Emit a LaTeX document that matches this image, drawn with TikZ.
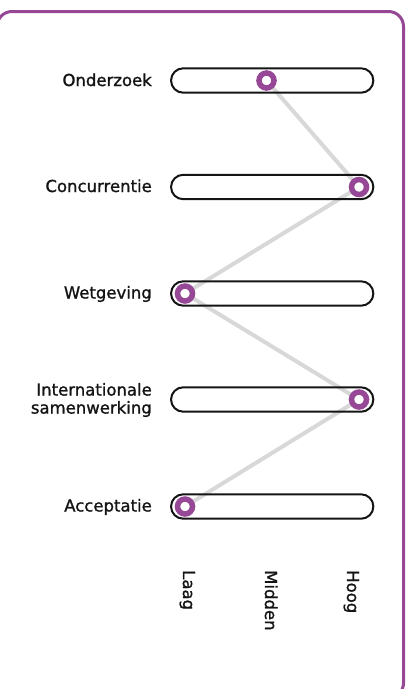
\documentclass[tikz,border=0pt]{standalone}
\usepackage{fontspec}
\newfontfamily\labfont[FakeBold=1.2]{DejaVu Sans}
\usetikzlibrary{shapes.misc}
\definecolor{frameviolet}{RGB}{150,72,150}
\definecolor{ink}{RGB}{20,20,20}
\definecolor{linkgray}{RGB}{216,216,216}
\tikzset{
  framebox/.style={draw=frameviolet, line width=3pt, rounded corners=15pt},
  track/.style={draw=ink, line width=2pt, rounded rectangle, minimum width=202.3pt, minimum height=24.4pt, inner sep=0pt},
  marker/.style={circle, draw=frameviolet, line width=5.5pt, fill=white, minimum size=15pt, inner sep=0pt},
  link/.style={draw=linkgray, line width=4pt},
  rowlabel/.style={font=\labfont\fontsize{16.5}{18}\selectfont, text=ink, align=right, inner sep=0pt},
  axislabel/.style={font=\labfont\fontsize{16.5}{18}\selectfont, text=ink, rotate=-90, anchor=base west, inner sep=0pt}
}
\begin{document}
\begin{tikzpicture}[x=1pt, y=-1pt]
\useasboundingbox (0,0) rectangle (413,689);
\draw[framebox] (-3,11.5) rectangle (403.5,698);
% marker positions
\coordinate (p1) at (266.5,80.5);
\coordinate (p2) at (359,187);
\coordinate (p3) at (185,293.5);
\coordinate (p4) at (359,399.5);
\coordinate (p5) at (185,506.5);
% connectors
\draw[link] (p1) -- (p2);
\draw[link] (p2) -- (p3);
\draw[link] (p3) -- (p4);
\draw[link] (p4) -- (p5);
% tracks
\node[track] (t1) at (272.2,80.5) {};
\node[track] (t2) at (272.2,187) {};
\node[track] (t3) at (272.2,293.5) {};
\node[track] (t4) at (272.2,399.5) {};
\node[track] (t5) at (272.2,506.5) {};
% markers
\node[marker] (m1) at (p1) {};
\node[marker] (m2) at (p2) {};
\node[marker] (m3) at (p3) {};
\node[marker] (m4) at (p4) {};
\node[marker] (m5) at (p5) {};
% row labels
\node[rowlabel, anchor=base east] (l1) at (152,86) {Onderzoek};
\node[rowlabel, anchor=base east] (l2) at (152,192) {Concurrentie};
\node[rowlabel, anchor=base east] (l3) at (152,298.5) {Wetgeving};
\node[rowlabel, anchor=east] (l4) at (152,400) {Internationale\\samenwerking};
\node[rowlabel, anchor=base east] (l5) at (152,511.5) {Acceptatie};
% axis labels
\node[axislabel] (a1) at (183,570) {Laag};
\node[axislabel] (a2) at (265,570) {Midden};
\node[axislabel] (a3) at (347,570) {Hoog};
\end{tikzpicture}
\end{document}
